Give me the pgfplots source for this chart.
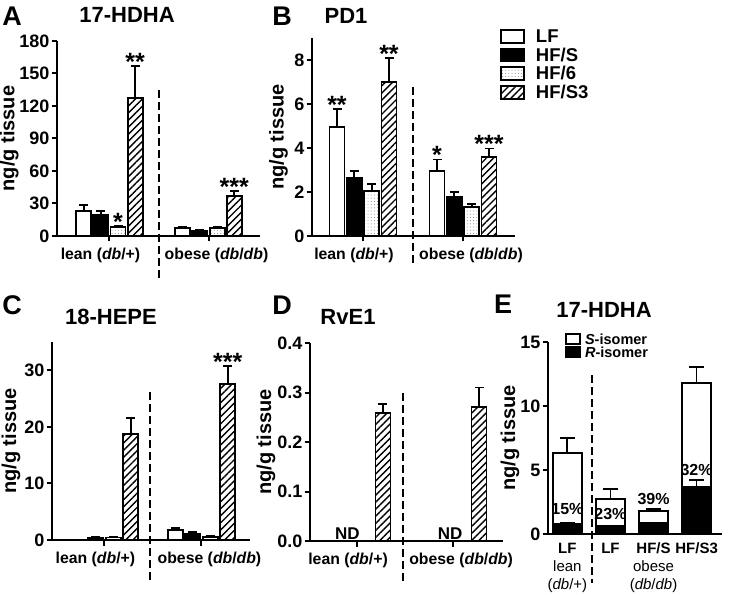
\documentclass[border=0pt]{standalone}
\usepackage{fontspec}
\setmainfont{Liberation Sans}
\usepackage{pgfplots}
\usepackage{pgfplotstable}
\pgfplotsset{compat=1.18}
\usetikzlibrary{patterns.meta}

% columns: bar positions (xa..xd) and values with upper error
\pgfplotstableread{
xa xb xc xd lf lfe hfs hfse hf6 hf6e s3 s3e
-0.26 -0.087 0.087 0.26 23.0 5.6 19.4 4.0 8.6 0.9 127.7 29.3
0.74 0.913 1.087 1.26 7.1 1.5 5.0 0.8 7.7 0.6 37.0 4.5
}\tA
\pgfplotstableread{
xa xb xc xd lf lfe hfs hfse hf6 hf6e s3 s3e
-0.26 -0.087 0.087 0.26 4.97 0.79 2.62 0.35 2.06 0.29 7.01 1.09
0.74 0.913 1.087 1.26 2.97 0.51 1.79 0.21 1.30 0.14 3.60 0.38
}\tB
\pgfplotstableread{
xa xb xc xd lf lfe hfs hfse hf6 hf6e s3 s3e
-0.27 -0.09 0.09 0.27 nan nan 0.45 0.1 0.45 0.1 18.7 2.9
0.73 0.91 1.09 1.27 1.77 0.3 1.15 0.2 0.6 0.1 27.6 3.2
}\tC
\pgfplotstableread{
xd s3 s3e
0.27 0.258 0.019
1.27 0.270 0.040
}\tD
\pgfplotstableread{
x tot tote r re
0 6.35 1.12 0.78 0.10
1 2.76 0.73 0.62 0.04
2 1.80 0.13 0.83 0.04
3 11.77 1.30 3.70 0.52
}\tE

\pgfplotsset{
  LF/.style={draw=black, fill=white, line width=1.8pt},
  HFS/.style={draw=black, fill=black, line width=1.8pt},
  HF6/.style={draw=black, line width=1.8pt, pattern={Dots[distance=3.2pt,radius=0.5pt]}, pattern color=gray},
  HFS3/.style={draw=black, line width=1.8pt, pattern={Lines[angle=45,distance=5pt,line width=1.4pt]}, pattern color=black},
  eb/.style={/pgfplots/error bars/y dir=plus, /pgfplots/error bars/y explicit,
    /pgfplots/error bars/error mark=-,
    /pgfplots/error bars/error bar style={line width=1.8pt, black, solid},
    /pgfplots/error bars/error mark options={rotate=90, mark size=#1, line width=1.8pt, black, solid}},
  eb/.default=4.5pt,
  legbox/.style={legend image code/.code={\draw[##1] (0pt,-6.5pt) rectangle (23pt,6.5pt);}},
  legboxE/.style={legend image code/.code={\draw[##1] (0pt,-5pt) rectangle (14pt,5pt);}},
  panel/.style={
    scale only axis, anchor=south west,
    axis lines*=left, axis line style={line width=2pt, -},
    ymin=0, xmin=-0.53, xmax=1.52,
    xtick={0,1}, xticklabels={lean (\textit{db}/+)\hspace*{18pt}, \hspace*{16pt}obese (\textit{db}/\textit{db})},
    tick align=outside, major tick length=5.5pt, tick style={line width=2pt, black},
    /pgf/number format/assume math mode=true,
    yticklabel style={font=\bfseries\fontsize{18}{18}\selectfont, inner sep=2pt},
    xticklabel style={font=\bfseries\fontsize{15.8}{17}\selectfont, yshift=-3pt},
    ylabel={ng/g tissue}, ylabel style={font=\bfseries\fontsize{20}{20}\selectfont, anchor=center},
    clip=false,
  },
  stars/.style={only marks, mark=none, forget plot, nodes near coords, point meta=explicit symbolic,
    nodes near coords style={font=\bfseries\fontsize{25}{25}\selectfont, anchor=base, yshift=-4.5pt, inner sep=0pt}},
}
\tikzset{divider/.style={line width=2.2pt, dash pattern=on 8pt off 4pt}}
\newcommand{\bars}[1]{%
  \addplot[forget plot, ybar, bar width=15pt, bar shift=0pt, LF, eb] table[x=xa, y=lf, y error=lfe] {#1};
  \addplot[forget plot, ybar, bar width=15pt, bar shift=0pt, HFS, eb] table[x=xb, y=hfs, y error=hfse] {#1};
  \addplot[forget plot, ybar, bar width=15pt, bar shift=0pt, HF6, eb] table[x=xc, y=hf6, y error=hf6e] {#1};
  \addplot[forget plot, ybar, bar width=15pt, bar shift=0pt, HFS3, eb] table[x=xd, y=s3, y error=s3e] {#1};
}

\begin{document}
\begin{tikzpicture}[x=1pt,y=1pt]
\path[use as bounding box] (0,0) rectangle (742,595);

% Panel A
\begin{axis}[panel, at={(57pt,359pt)}, width=203pt, height=195pt,
  ymax=180, ytick={0,30,...,180},
  ylabel style={at={(axis description cs:-0.235,0.5)}}]
\bars{\tA}
\addplot[stars] coordinates {(0.087,9.5) [*] (0.26,157) [**] (1.26,41.5) [***]};
\draw[divider] (axis cs:0.5,135) -- (axis cs:0.5,-39);
\end{axis}

% Panel B
\begin{axis}[panel, at={(312pt,359pt)}, width=203pt, height=198pt,
  ymax=9, ytick={0,2,4,6,8}, xmin=-0.51,
  ylabel style={at={(axis description cs:-0.165,0.5)}},
  legend style={at={(axis description cs:0.926,1.048)}, anchor=north west, draw=none, fill=none,
    inner sep=0pt, row sep=4pt, font=\bfseries\fontsize{18.5}{18.5}\selectfont,
    nodes={inner ysep=0pt, inner xsep=1pt, text height=12.5pt, text depth=0pt},
    /tikz/every odd column/.append style={column sep=10pt}},
  legend cell align=left]
\bars{\tB}
\addlegendimage{legbox, LF}\addlegendentry{LF}
\addlegendimage{legbox, HFS}\addlegendentry{HF/S}
\addlegendimage{legbox, HF6}\addlegendentry{HF/6}
\addlegendimage{legbox, HFS3}\addlegendentry{HF/S3}
\addplot[stars] coordinates {(-0.26,5.76) [**] (0.26,8.1) [**] (0.74,3.48) [*] (1.26,3.98) [***]};
\draw[divider] (axis cs:0.5,6.77) -- (axis cs:0.5,-1.41);
\end{axis}

% Panel C
\begin{axis}[panel, at={(52pt,55pt)}, width=198pt, height=198pt,
  ymax=35, ytick={0,10,20,30}, xmin=-0.54, xmax=1.5,
  ylabel style={at={(axis description cs:-0.207,0.5)}}]
\bars{\tC}
\addplot[stars] coordinates {(1.27,30.8) [***]};
\draw[divider] (axis cs:0.47,26.2) -- (axis cs:0.47,-7.1);
\end{axis}

% Panel D
\begin{axis}[panel, at={(310pt,54pt)}, width=193pt, height=198pt,
  ymax=0.4, ytick={0,0.1,0.2,0.3,0.4}, xmin=-0.49, xmax=1.52,
  yticklabel style={/pgf/number format/.cd, fixed, fixed zerofill, precision=1},
  ylabel style={at={(axis description cs:-0.228,0.5)}}]
\addplot[forget plot, ybar, bar width=15pt, bar shift=0pt, HFS3, eb] table[x=xd, y=s3, y error=s3e] {\tD};
\addplot[only marks, mark=none, forget plot, nodes near coords, point meta=explicit symbolic,
  nodes near coords style={font=\bfseries\fontsize{17}{17}\selectfont, anchor=south, inner sep=1pt}]
  coordinates {(-0.1,0) [ND] (0.97,0) [ND]};
\draw[divider] (axis cs:0.48,0.299) -- (axis cs:0.48,-0.085);
\end{axis}

% Panel E
\begin{axis}[panel, at={(548pt,61pt)}, width=174pt, height=192pt,
  ymax=15, ytick={0,5,10,15}, xmin=-0.45, xmax=3.59,
  xtick={0,1,2,3},
  xticklabels={{\textbf{LF}\\lean\\(\textit{db}/+)}, \textbf{LF}, {\textbf{HF/S}\\obese\\(\textit{db}/\textit{db})}, \textbf{HF/S3}},
  xticklabel style={font=\mdseries\fontsize{15}{18}\selectfont, align=center, yshift=3pt},
  xtick style={draw=none},
  ylabel style={at={(axis description cs:-0.218,0.5)}},
  legend style={at={(axis description cs:0.098,1.047)}, anchor=north west, draw=none, fill=none,
    inner sep=0pt, row sep=1.5pt, font=\bfseries\fontsize{14.5}{14.5}\selectfont,
    nodes={inner ysep=0pt, inner xsep=1pt, text height=10pt, text depth=0pt},
    /tikz/every odd column/.append style={column sep=3pt}},
  legend cell align=left]
\addplot[forget plot, ybar, bar width=29pt, bar shift=0pt, LF, eb=7.5pt] table[x=x, y=tot, y error=tote] {\tE};
\addplot[forget plot, ybar, bar width=29pt, bar shift=0pt, HFS, eb=7.5pt] table[x=x, y=r, y error=re] {\tE};
\addlegendimage{legboxE, LF}\addlegendentry{\textit{S}-isomer}
\addlegendimage{legboxE, HFS}\addlegendentry{\textit{R}-isomer}
\addplot[only marks, mark=none, forget plot, nodes near coords, point meta=explicit symbolic,
  nodes near coords style={font=\bfseries\fontsize{16}{16}\selectfont, anchor=center, inner sep=0pt}]
  coordinates {(0,1.95) [15\%] (1,1.56) [23\%] (2,2.76) [39\%] (3,5.0) [32\%]};
\draw[divider] (axis cs:0.57,12.4) -- (axis cs:0.57,-3.83);
\end{axis}

% Panel letters and titles
\begin{scope}[every node/.style={font=\bfseries\fontsize{27}{27}\selectfont, inner sep=0pt}]
\node at (12,579) {A};
\node at (282,579) {B};
\node at (12,290) {C};
\node at (282,290) {D};
\node at (503,291) {E};
\end{scope}
\begin{scope}[every node/.style={font=\bfseries\fontsize{22}{22}\selectfont, inner sep=0pt}]
\node at (127,580) {17-HDHA};
\node at (346,579) {PD1};
\node at (111,278) {18-HEPE};
\node at (348,278) {RvE1};
\node at (604,285) {17-HDHA};
\end{scope}
\end{tikzpicture}
\end{document}
